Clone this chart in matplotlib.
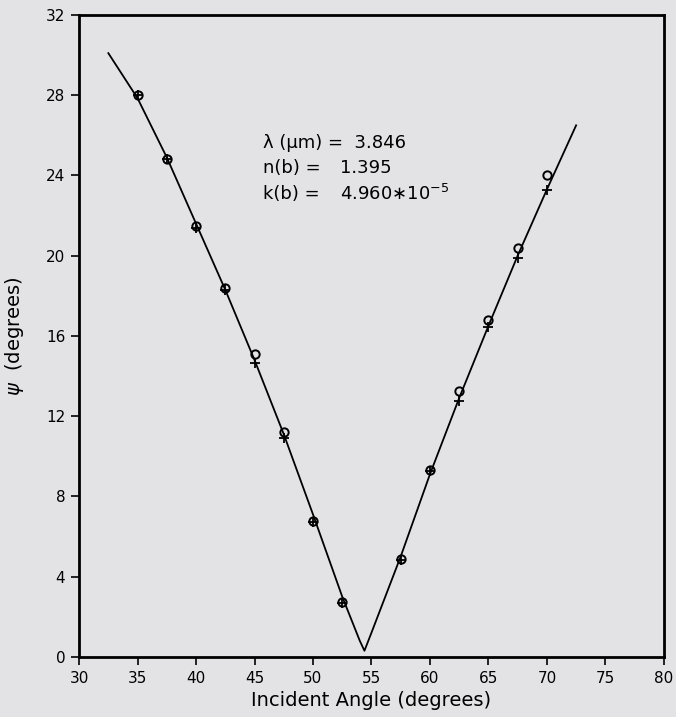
import matplotlib.pyplot as plt

# === Data ===
angle_meas = [35, 37.5, 40, 42.5, 45, 47.5, 50, 52.5, 57.5, 60, 62.5, 65, 67.5, 70]
psi_circle = [28.0, 24.8, 21.5, 18.4, 15.1, 11.2, 6.75, 2.75, 4.9, 9.3, 13.25, 16.8, 20.4, 24.0]
psi_plus = [28.0, 24.8, 21.4, 18.3, 14.65, 10.9, 6.7, 2.7, 4.85, 9.25, 12.75, 16.45, 19.9, 23.3]

angle_fit = [32.5, 35, 37.5, 40, 42.5, 45, 47.5, 50, 52.5, 54.0, 54.4, 55.0, 57.5, 60, 62.5, 65, 67.5, 70, 72.5]
psi_fit = [30.1, 27.85, 24.9, 21.6, 18.3, 14.8, 11.1, 7.1, 3.0, 0.8, 0.3, 1.2, 5.0, 9.1, 12.9, 16.5, 20.0, 23.3, 26.5]

xticks = [30, 35, 40, 45, 50, 55, 60, 65, 70, 75, 80]
yticks = [0, 4, 8, 12, 16, 20, 24, 28, 32]

bg = '#e3e3e5'

# === Figure ===
fig = plt.figure(figsize=(6.76, 7.17), dpi=100, facecolor=bg)
ax = fig.add_axes([0.117, 0.084, 0.865, 0.895], facecolor=bg)

ax.plot(angle_fit, psi_fit, color='black', linewidth=1.3)
ax.plot(angle_meas, psi_circle, linestyle='none', marker='o', markersize=6,
        markerfacecolor='none', markeredgecolor='black', markeredgewidth=1.4)
ax.plot(angle_meas, psi_plus, linestyle='none', marker='+', markersize=6.5,
        color='black', markeredgewidth=1.3)

ax.set_xlim(30, 80)
ax.set_ylim(0, 32)
ax.set_xticks(xticks)
ax.set_yticks(yticks)

for s in ax.spines.values():
    s.set_linewidth(2)
ax.tick_params(direction='out', length=6, width=1.2, labelsize=11, pad=4)

ax.set_xlabel('Incident Angle (degrees)', fontsize=14, labelpad=4)
ax.set_ylabel(r'$\psi$  (degrees)', fontsize=14, labelpad=14)

# === Annotation ===
ax.text(45.7, 25.6, 'λ (μm) =  3.846', fontsize=13, va='center')
ax.text(45.7, 24.35, 'n(b) =', fontsize=13, va='center')
ax.text(52.3, 24.35, '1.395', fontsize=13, va='center')
ax.text(45.7, 23.1, 'k(b) =', fontsize=13, va='center')
ax.text(52.3, 23.1, r'4.960$\ast$10$^{-5}$', fontsize=13, va='center')

plt.savefig('out.png', dpi=100, facecolor=bg)
